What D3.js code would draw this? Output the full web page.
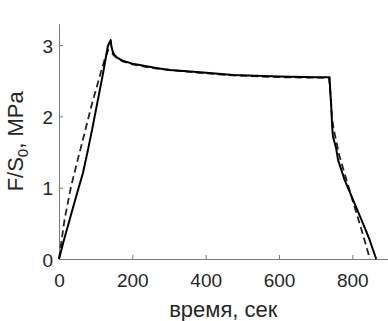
<!DOCTYPE html>
<html>
<head>
<meta charset="utf-8">
<script src="https://cdn.jsdelivr.net/npm/d3@7"></script>
<style>
  body { margin: 0; background: #fff; }
  svg { display: block; font-family: "Liberation Sans", Arial, sans-serif; }
</style>
</head>
<body>
<div id="wrapper"></div>
<script>
// solid curve (measured)
const solidTime = [0, 12, 24, 36, 47, 56, 65, 79, 92, 106, 120, 133, 138, 141, 143, 147, 151, 160, 174, 200, 220, 265, 302, 385, 475, 600, 700, 738, 740, 742, 745, 747, 756, 761, 779, 802, 825, 847, 865]
const solidValue = [0, 0.24, 0.46, 0.68, 0.88, 1.04, 1.2, 1.53, 1.86, 2.23, 2.6, 2.98, 3.04, 3.07, 2.98, 2.9, 2.86, 2.82, 2.78, 2.74, 2.72, 2.68, 2.65, 2.62, 2.58, 2.56, 2.55, 2.55, 2.33, 2.19, 1.86, 1.72, 1.55, 1.39, 1.11, 0.83, 0.55, 0.27, 0]

// dashed curve (model)
const dashedTime = [0, 15, 33, 51, 70, 88, 106, 124, 134, 145, 155, 174, 200, 265, 385, 475, 600, 736, 740, 745, 752, 765, 802, 825, 848]
const dashedValue = [0, 0.55, 1.02, 1.39, 1.77, 2.14, 2.47, 2.79, 2.93, 2.88, 2.83, 2.77, 2.73, 2.67, 2.61, 2.575, 2.55, 2.54, 2.35, 1.95, 1.75, 1.44, 0.8, 0.41, 0]

const xTicks = [0, 200, 400, 600, 800]
const yTicks = [0, 1, 2, 3]

function drawChart() {

  const solidData = solidTime.map((t, i) => ({ t: t, v: solidValue[i] }))
  const dashedData = dashedTime.map((t, i) => ({ t: t, v: dashedValue[i] }))

  const xAccessor = d => d.t
  const yAccessor = d => d.v

  let dimensions = {
    width: 388,
    height: 321,
    margin: {
      top: 23.7,
      right: -1,
      bottom: 62,
      left: 59
    }
  }
  dimensions.boundedWidth = dimensions.width - dimensions.margin.left - dimensions.margin.right
  dimensions.boundedHeight = dimensions.height - dimensions.margin.top - dimensions.margin.bottom

  const wrapper = d3.select('#wrapper')
    .append('svg')
    .attr('width', dimensions.width)
    .attr('height', dimensions.height)

  const bounds = wrapper.append('g')
    .attr('transform', `translate(${dimensions.margin.left}, ${dimensions.margin.top})`)

  // SCALES
  const xScale = d3.scaleLinear()
    .domain([0, 900])
    .range([0, dimensions.boundedWidth])

  const yScale = d3.scaleLinear()
    .domain([0, 3.3])
    .range([dimensions.boundedHeight, 0])

  // AXES (ticks pointing inside, matlab style)
  const xAxisGenerator = d3.axisBottom(xScale)
    .tickValues(xTicks)
    .tickFormat(d3.format('d'))
    .tickSizeInner(-4)
    .tickSizeOuter(0)
    .tickPadding(15)

  const yAxisGenerator = d3.axisLeft(yScale)
    .tickValues(yTicks)
    .tickFormat(d3.format('d'))
    .tickSizeInner(-4)
    .tickSizeOuter(0)
    .tickPadding(6)

  const xAxis = bounds.append('g')
    .attr('transform', `translate(0, ${dimensions.boundedHeight})`)
    .call(xAxisGenerator)

  const yAxis = bounds.append('g')
    .call(yAxisGenerator)

  bounds.selectAll('.domain, .tick line')
    .attr('stroke', '#7a7a7a')
  bounds.selectAll('.tick text')
    .attr('fill', '#262626')
    .style('font-size', '19px')
  yAxis.selectAll('.tick text').attr('dy', '0.38em')

  // LINES
  const lineGenerator = d3.line()
    .x(d => xScale(xAccessor(d)))
    .y(d => yScale(yAccessor(d)))

  bounds.append('path')
    .attr('d', lineGenerator(dashedData))
    .attr('fill', 'none')
    .attr('stroke', '#222')
    .attr('stroke-width', 1.8)
    .attr('stroke-dasharray', '7,4')

  bounds.append('path')
    .attr('d', lineGenerator(solidData))
    .attr('fill', 'none')
    .attr('stroke', '#000')
    .attr('stroke-width', 2)
    .attr('stroke-linejoin', 'round')

  // LABELS
  xAxis.append('text')
    .attr('x', xScale(448))
    .attr('y', 58)
    .attr('fill', '#262626')
    .attr('text-anchor', 'middle')
    .style('font-size', '22px')
    .text('время, сек')

  const yLabel = yAxis.append('text')
    .attr('transform', `translate(${23 - dimensions.margin.left}, ${dimensions.boundedHeight / 2}) rotate(-90)`)
    .attr('fill', '#262626')
    .attr('text-anchor', 'middle')
    .style('font-size', '22px')
  yLabel.append('tspan').text('F/S')
  yLabel.append('tspan').attr('dy', 5).style('font-size', '15px').text('0')
  yLabel.append('tspan').attr('dy', -5).text(', MPa')
}

drawChart()
</script>
</body>
</html>
